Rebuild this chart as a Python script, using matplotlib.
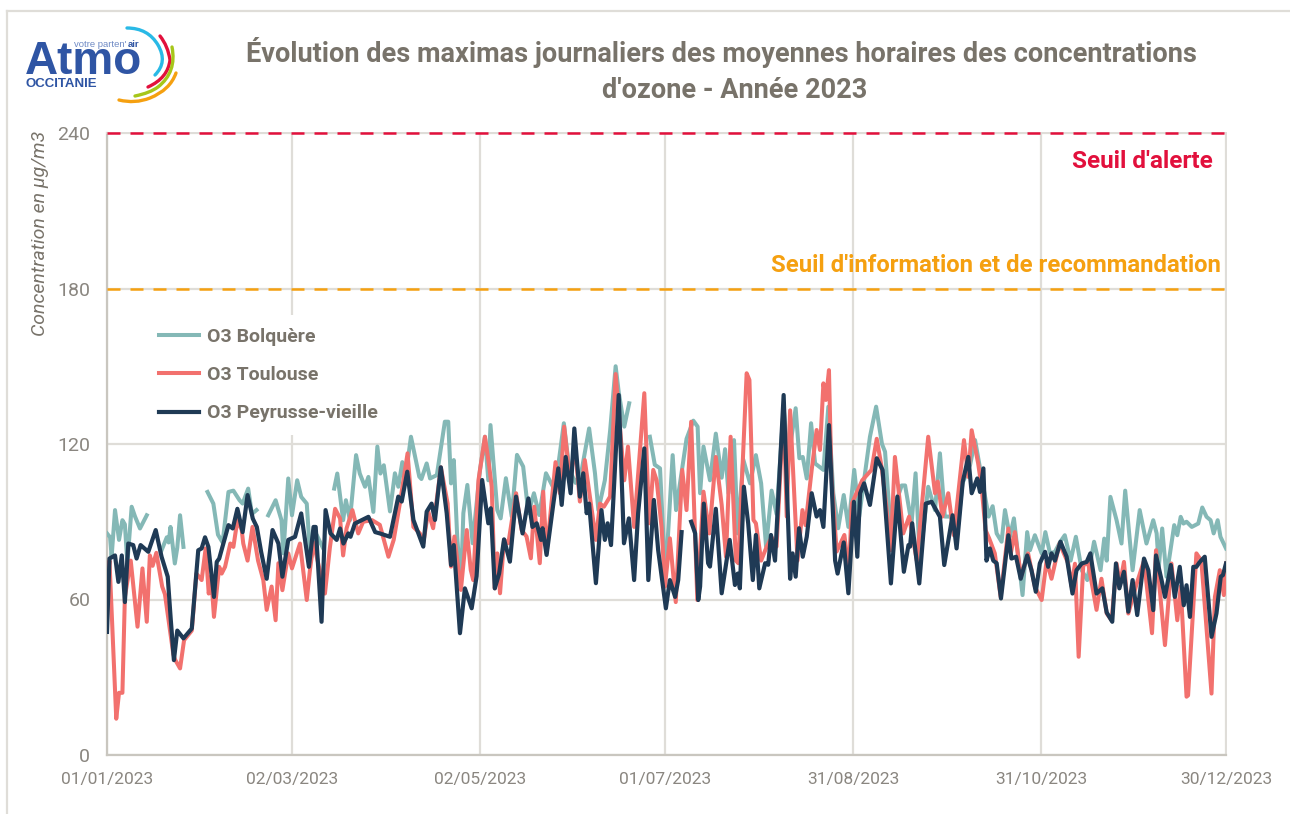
import numpy as np
import matplotlib.pyplot as plt
from matplotlib.lines import Line2D
from matplotlib.patches import PathPatch
from matplotlib.path import Path

W, H = 1290, 814

tick_days = [0, 60, 121, 181, 242, 303, 363]
tick_dates = ['01/01/2023', '02/03/2023', '02/05/2023', '01/07/2023',
              '31/08/2023', '31/10/2023', '30/12/2023']
y_ticks = [0, 60, 120, 180, 240]

alert_level = 240
info_level = 180

# (day of the year, µg/m3), nan = hole in the series
bolquere_days = [0, 1, 1.5, 2.6, 3.9, 5, 5.8, 6.6, 8, 9.1, 10.7, 12.9, 13.5,
                 17.7, 19.4, 20, 20.6, 22, 22.8, 23.7, 24.8, 28,
                 32.6, 34.5, 36, 37.5, 39.4, 41, 43, 44, 45.8, 47, 48.5, 50,
                 52.3, 54.7, 56.6, 57.2, 58.8, 60, 61.7, 63, 64.8, 66, 68, 70, 73,
                 73.7, 74.7, 76.6, 77.5, 78.8, 80.8, 82, 83.7, 84.8, 86.4, 87.7, 88.7, 89.8,
                 91.8, 93.4, 94.5, 95.8, 96.7, 98.6, 101.3, 102, 103.7, 104.8, 107, 109.6, 110.7, 111.6, 112.5,
                 113.6, 114.8, 115.6, 116.9, 118.6, 121, 122.6, 123.7, 124.4, 126.6, 127.7, 129.4, 131.3, 133,
                 135, 136.7, 138.5, 140.2, 142.4, 145.3, 148.2, 150, 152, 154, 156.4, 158.3, 159.4, 161.5, 163.2,
                 165, 166, 167.8, 169.4, 170, 174,
                 176.1, 177.7, 179.4, 180.7, 181.5, 183.5, 184.6, 185.4, 188, 190.2, 191.6, 192.4, 193.5, 195.6,
                 197.5, 199.4, 200.5, 201.6, 203.4, 204.6, 206.4, 208.6, 210.5, 212.2, 213.8, 215.6, 217.2, 219.5,
                 221, 223.4, 224.6, 225.7, 227, 228.4, 229.7, 232.4, 234, 235.6, 237.2, 239, 240.5, 242.4, 244,
                 247.5, 249.5, 251.4, 252.4, 254, 257.8, 258.9, 261, 262.3, 263.7, 266.4, 268.6, 270.2, 271.8,
                 273.5, 276, 277.5, 280, 281.6, 283.7, 286, 287.3, 288.6, 290.2, 291.3, 292.9, 294.2, 297, 298.5,
                 299.4, 301, 303.2, 304.4, 305.9, 307.5, 309.1, 310.7, 312.6, 314.3, 316.2, 318, 320.2, 322.3,
                 323.5, 324.3, 325.5, 327.5, 329.1, 330.3, 332.7, 335, 337.2, 339.4, 340.5, 341.2, 342.3, 343.7,
                 346.2, 347.2, 348.3, 349.2, 350.2, 351.9, 354, 355.3, 356.7, 358, 359, 360.3, 361.2, 363]
bolquere = [85.5, 84, 76.5, 94.5, 83, 90.6, 89, 74, 95.8, 92, 87.4, 92.5, np.nan,
            79, 84, 82, 88, 73.9, 80, 92.5, 80.3, np.nan,
            101.5, 97, 85, 82, 101.5, 102, 98.3, 97, 102.8, 93, 94.5, np.nan,
            92.5, 98.3, 90.6, 77.8, 106.7, 92.5, 106, 99.6, 97, 75, 85, 80, np.nan,
            102.8, 108.6, 90.6, 98.3, 90.6, 115.7, 108.6, 103.5, 107.3, 93.8, 119, 108.6, 111.8,
            94, 108.7, 103.5, 113, 106, 122.8, 107.4, 106.5, 112.5, 106.7, 108, 128.6, 128.6, 104.8, 113.8,
            84.3, 65, 93.3, 104.2, 81.7, 110, 122.8, 106, 127.3, 94.5, 91.3, 106.8, 92, 115.8,
            111.3, 93.3, 101, 92.6, 108.7, 102, 128, 110, 105, 110, 126, 108.7, 94.5, 106, 125,
            150, 140, 126.7, 135.7, np.nan, np.nan,
            122.8, 112, 110.6, 79, 75, 115.7, 94.5, 101, 122, 129, 126.7, 101, 119, 106,
            124, 107, 118, 101, 121.5, 85.5, 114, 104.8, 115.7, 104.8, 80.4, 102, 93, 134,
            114, 133.8, 114.5, 115, 106.7, 128, 112.5, 110, 134.4, 101, 87.5, 100.3, 88, 110, 92,
            122.8, 134.4, 120, 117, 90.7, 104, 104, 89.4, 108.7, 75, 103.5, 94.5, 116.4, 92,
            92, 88, 104.8, 112, 121.5, 107.3, 92, 96, 85.5, 82.3, 94.5, 84.2, 91.3, 61.7, 86,
            79, 84.8, 77.8, 86, 77.8, 78.4, 82, 84.8, 75, 84.2, 71.3, 67.5, 82.3, 71.3,
            83.5, 75, 99.6, 90.6, 81.6, 102, 71.3, 94.5, 81.6, 90.6, 85.5, 72.6, 87.4, 68.8,
            88.7, 84.8, 91.9, 89.3, 90, 88, 89.3, 95.5, 91.9, 90.6, 85.5, 90.6, 84.2, 79.7]

toulouse_days = [0, 0.8, 3, 3.9, 5, 5.8, 7.7, 9.9, 11.5, 12.9, 13.9, 14.8, 16, 17.9, 18.8, 21.5, 22, 23.7,
                 25, 27.5, 29, 30.7, 32, 33, 33.8, 34.7, 36.4, 37.2, 38.3, 40, 41, 42.3, 43.7, 44.2, 45.6,
                 47.2, 49, 50.7, 51.8, 53.4, 54.7, 55.6, 56.9, 58.8, 60, 62.6, 64.8, 65.8, 67, 70.7, 72.3,
                 74, 75.6, 76.6, 77.7, 79.6, 81.5, 83.1, 86, 88.5, 89.6, 91.3, 93, 95, 97.5, 99.4, 101.5,
                 102.6, 104.2, 105.8, 108.3, 110.5, 111.6, 112.7, 114.8, 116.7, 118, 118.8, 120.5, 122.6,
                 124, 124.8, 125.8, 126.6, 127.5, 128.8, 130.2, 132.7, 134.5, 136.1, 137.5, 138.6, 140.4,
                 141.5, 142.6, 144.2, 145.5, 146.9, 148.3, 150.2, 151.8, 153.4, 155, 158.6, 159.9, 161.2,
                 163.2, 165, 167.8, 169, 171, 174.3, 175.9, 177.2, 178.3, 179.9, 181, 182.6, 184.5, 186.6,
                 188, 189.5, 191.5, 193.5, 195.4, 197.5, 199.4, 200.8, 202.3, 204, 204.8, 207.5, 208.4,
                 209.7, 210.5, 212.2, 214, 215.6, 217.2, 219.5, 220.5, 221.6, 224, 225.6, 226.6, 228.6,
                 230.2, 231.3, 232.4, 233.2, 234.2, 235, 236.7, 239.2, 240.7, 241.6, 245, 248, 249.7,
                 251.3, 252.8, 254.2, 255.6, 258.3, 260.2, 262.7, 266.4, 268.6, 269.5, 271, 272.9, 274.7,
                 278, 279.4, 280.5, 282.6, 283.7, 285, 286.2, 288, 289.9, 292.4, 293.2, 294.5, 296.5, 298.8,
                 301, 303.2, 304.8, 306.4, 309, 311.8, 312.9, 314, 315.2, 316.7, 318.3, 321, 322.6, 324.3,
                 325.9, 327.5, 328.6, 329.9, 331.3, 334, 336.4, 339, 340.3, 343.2, 345.3, 347.2, 348.3,
                 350.2, 350.7, 353.4, 355, 358.3, 359.4, 361, 362.3, 363]
toulouse = [66, 75, 14, 24, 24, 61, 75, 49.5, 72, 51.4, 77, 73, 78, 65, 62, 39, 37, 33.4,
            44.3, 48, 70, 67.5, 79.7, 62.3, 68.8, 53.3, 72.6, 70, 72.6, 81.6, 80.3, 90.6, 86.8, 81.6, 75,
            88, 75, 67.5, 56, 65, 52, 74, 63.6, 77.8, 72, 81.6, 59.8, 71, 82, 62.3, 80,
            95, 91.3, 77, 87.4, 94.5, 85.5, 90, 90.6, 88.8, 84, 76.5, 83, 97, 116.4, 88, 85.5,
            81.7, 94, 87.5, 111, 97, 72.7, 84.3, 63.7, 86.8, 71.4, 67.5, 106, 122.8,
            111.3, 103.5, 64.3, 77.8, 62.4, 83, 81.7, 101, 86.8, 84.3, 75.9, 95.8, 74,
            101.6, 77.8, 97, 113, 101, 126.7, 106, 119, 97.8, 113.8, 83, 97, 95.8,
            99.7, 147, 106, 119, 88, 139.6, 89.4, 110, 106, 88, 65, 83.6, 59, 110,
            94.5, 128.6, 59.8, 101.6, 85.5, 115, 96.5, 76.5, 122.8, 75, 74, 147.3, 144.7,
            90.7, 89.4, 75, 80.4, 84, 80.4, 134, 92, 133, 75, 94.5, 88.7, 110,
            125.4, 117.7, 143.4, 137, 148.5, 107.4, 78.5, 84.9, 70, 97, 106, 110, 122,
            111, 96, 79, 115, 85.5, 92, 75, 122.8, 101, 105.5, 92, 101, 84.8,
            121.5, 107.3, 125.3, 112.5, 103.5, 86.8, 83.5, 77.8, 61, 87.4, 77.8, 86, 68.8, 77.8,
            65, 59.8, 75, 68, 81.6, 74, 65, 73.8, 37.9, 73.3, 74, 56, 68, 54.6,
            52, 73.9, 66, 74.5, 54.6, 66, 75, 47, 79, 42.4, 73.9, 52, 65,
            22.5, 23, 77.8, 75, 23.7, 61, 71.3, 61.7, 73.9]

peyrusse_days = [0, 0.8, 2.6, 3.7, 4.8, 5.8, 6.9, 8.5, 9.6, 10.9, 13.4, 15.8, 17.7, 19.7, 20.7, 21.7, 22.8,
                 24.8, 27.5, 29.6, 30.7, 31.8, 32.9, 34.7, 35.6, 36.4, 38.3, 39.4, 40.8, 42.3, 44, 45.6,
                 47.3, 48.6, 50, 51.8, 53.7, 55.6, 56.9, 58.8, 61, 63, 65.5, 67, 67.7, 69.6, 70.9, 72.5,
                 74.5, 75.6, 76.7, 78.3, 79, 80.4, 82.6, 84.8, 87, 88.5, 91.8, 94.5, 95.6, 97.4, 99.4,
                 101, 102.6, 103.7, 105.3, 106.4, 108.3, 110.2, 111.6, 112.5, 113.6, 114.5, 116.1, 118.3,
                 119.9, 121.7, 123.7, 124.5, 125.8, 127.2, 128.8, 130.7, 132.7, 134.8, 136.7, 138, 139.4,
                 140.8, 141.3, 142.6, 144.8, 146.4, 147.5, 148.8, 150.4, 151.6, 153.4, 154.5, 155.6, 156.4,
                 158.6, 160.4, 161.5, 162.4, 163.5, 166, 167.7, 169.3, 171, 172.3, 174.3, 175.6, 177.4,
                 178.8, 181.3, 182.6, 184.3, 185.3, 186.4, 188,
                 189.5, 190.8, 191.8, 192.4, 193.6, 195, 195.6, 197.5, 199.4, 202, 203.7, 204.6, 205.3,
                 206.6, 208, 209.5, 210.5, 211.6, 213.5, 214.5, 215.4, 216.7, 219.5, 221.6, 222.4, 223.4,
                 224.5, 225.7, 227, 228.6, 230.2, 231.3, 232.4, 234.2, 236.2, 237, 239, 240.5, 242.3,
                 243.4, 244.3, 245.6, 247.5, 249.7, 251.6, 254.3, 256.4, 258.5, 260, 260.5, 261.2, 263.5,
                 265.6, 267.5, 270.2, 271.6, 274.3, 275.6, 277.6, 279.4, 280.5, 282.3, 283.2, 284.3, 285.3,
                 286.4, 287.5, 288.6, 290, 292.4, 293.4, 294.9, 296.4, 298.5, 299.9, 301.3, 302.6, 304.3,
                 305.3, 306.4, 307.5, 309.3, 311.3, 313.2, 314.5, 316.2, 317.8, 319, 321, 322.9, 324.3,
                 326.1, 327.3, 328.4, 329.9, 331.3, 332.7, 334.2, 336.4, 337.8, 339.4, 340.3, 342.1, 343.2,
                 345.1, 346.4, 348, 349.3, 350.2, 351.3, 352.4, 353.4, 354.5, 356.1, 358.3, 359.9, 361.3,
                 362, 363]
peyrusse = [47.5, 75.8, 77, 66.8, 77, 59, 81.6, 81, 75.8, 81, 78.4, 86.8, 76.5, 68.8, 52, 36.6, 48,
            45, 48.8, 79, 79.7, 84, 80.3, 61, 74.5, 75.8, 84, 88.7, 87.4, 95, 86, 100.3,
            91.2, 88, 78.4, 68, 86.8, 81.6, 68.8, 83, 84.2, 93.2, 72.6, 88, 88, 51.4, 94.5, 85.5,
            83, 87.4, 81.6, 85.5, 84.2, 89.3, 90.6, 91.9, 86, 85.5, 84.2, 99.7, 97.8, 109.3, 90.7,
            85.5, 80.4, 93.9, 97, 90.7, 111, 93.3, 73.3, 81, 62.4, 47, 64.3, 56.6,
            69, 106.1, 89.4, 95.2, 64.3, 70, 83.2, 74.6, 99.7, 85.5, 99, 88, 89.4,
            83, 87.5, 77.2, 97, 110.6, 96.5, 115, 101, 126, 99.7, 108.7, 93.3, 97,
            66.3, 94.5, 83, 89.4, 81, 138.9, 81.7, 91.3, 67.5, 93.3, 118.3, 67.5, 98.4,
            79, 56.6, 67.5, 61, 67.5, 86, np.nan,
            90, 85.5, 59.8, 65, 97, 74, 72.7, 95, 62.4, 83, 65.6, 70, 64.3,
            103.5, 89.4, 67.5, 84.9, 64.3, 74, 73.4, 84.9, 75, 138.9, 68, 77.8, 68.8,
            87.5, 76.5, 84.2, 101, 92, 94.5, 88, 127.3, 75, 70, 82, 62.4, 97.7,
            76.5, 101, 104.8, 96.5, 114.5, 110, 66.2, 99.7, 70.7, 81, 80.4, 89.4, 66.2,
            97, 97.7, 91.9, 73.3, 92.5, 79.7, 105.4, 115, 101, 106.7, 101.5, 110.6, 75,
            79.7, 75, 74, 60.4, 84.8, 75.8, 76.5, 68, 77, 71.3, 63, 73.9, 78.4,
            72.6, 77.8, 75, 82.3, 76.5, 62.3, 71.3, 73.9, 74.5, 77.8, 62.3, 64.3, 55,
            51.4, 73.9, 64.3, 70.7, 55.3, 67.5, 54, 75.8, 71.3, 55.9, 77, 67.5, 61,
            73.3, 61, 72.6, 57.8, 65.5, 53.3, 72.6, 72.6, 74.5, 76.5, 45.6, 54.6, 68.8,
            69.4, 73.9]

series_names = ['O3 Bolquère', 'O3 Toulouse', 'O3 Peyrusse-vieille']

TEAL = '#84b8b6'
RED = '#f2716e'
NAVY = '#1f3a55'
GREY = '#78736a'
TICK = '#8a8680'
GRID = '#dfddd8'
AXIS = '#c9c6bf'
CRIMSON = '#e2103c'
ORANGE = '#f5a010'
BLUE = '#2f55a4'

plt.rcParams['font.family'] = ['Roboto', 'DejaVu Sans']

fig = plt.figure(figsize=(W / 100, H / 100), dpi=100)
ax = fig.add_axes([107 / W, 1 - 755 / H, (1226 - 107) / W, (755 - 133) / H])

ax.plot(bolquere_days, bolquere, color=TEAL, lw=2.9, label=series_names[0], solid_joinstyle='round', zorder=3)
ax.plot(toulouse_days, toulouse, color=RED, lw=2.9, label=series_names[1], solid_joinstyle='round', zorder=4)
ax.plot(peyrusse_days, peyrusse, color=NAVY, lw=3.0, label=series_names[2], solid_joinstyle='round', zorder=5)

ax.axhline(alert_level, color=CRIMSON, lw=1.8, ls=(0, (5.2, 4.0)), clip_on=False, zorder=6)
ax.axhline(info_level, color=ORANGE, lw=1.8, ls=(0, (5.2, 4.0)), clip_on=False, zorder=6)

ax.set_xlim(tick_days[0], tick_days[-1])
ax.set_ylim(y_ticks[0], y_ticks[-1])
ax.set_xticks(tick_days)
ax.set_xticklabels(tick_dates, fontsize=12.5, color=TICK)
ax.set_yticks(y_ticks)
ax.set_yticklabels(y_ticks, fontsize=14, color=TICK)
ax.tick_params(axis='x', length=0, pad=12)
ax.tick_params(axis='y', length=0, pad=12)
ax.grid(True, color=GRID, lw=1.6, zorder=0)
ax.set_axisbelow(True)
for side in ['top', 'right']:
    ax.spines[side].set_color(GRID)
    ax.spines[side].set_linewidth(1.4)
for side in ['left', 'bottom']:
    ax.spines[side].set_color(AXIS)
    ax.spines[side].set_linewidth(1.6)

ax.set_ylabel('Concentration en µg/m3', fontsize=14, style='italic', color=GREY)
ax.yaxis.set_label_coords(-0.052, 0.838, transform=ax.transAxes)

leg = ax.legend(loc='upper left', bbox_to_anchor=(146 / W, 1 - 315 / H), bbox_transform=fig.transFigure,
                frameon=True, facecolor='white', edgecolor='none', framealpha=1, fancybox=False,
                fontsize=14, handlelength=2.1, handletextpad=0.4, labelspacing=1.05,
                borderaxespad=0, borderpad=0.65)
leg.set_zorder(2)
for t in leg.get_texts():
    t.set_color(GREY)
    t.set_fontweight('bold')

fig.text(1213 / W, 1 - 162 / H, "Seuil d'alerte", color=CRIMSON, fontsize=17.5, fontweight='bold',
         ha='right', va='center')
fig.text(1221 / W, 1 - 266 / H, "Seuil d'information et de recommandation", color=ORANGE, fontsize=17.2,
         fontweight='bold', ha='right', va='center')

fig.text(721 / W, 1 - 53 / H, 'Évolution des maximas journaliers des moyennes horaires des concentrations',
         color=GREY, fontsize=19.5, fontweight='bold', ha='center', va='center')
fig.text(735 / W, 1 - 90 / H, "d'ozone - Année 2023", color=GREY, fontsize=19.5, fontweight='bold',
         ha='center', va='center')

# outer frame of the slide
fig.add_artist(Line2D([7 / W, 7 / W], [0, 1 - 11 / H], color=GRID, lw=1.6))
fig.add_artist(Line2D([7 / W, 1], [1 - 11 / H, 1 - 11 / H], color=GRID, lw=1.6))

# logo, in pixel coordinates
logo = fig.add_axes([0, 0, 1, 1], facecolor='none')
logo.set_xlim(0, W)
logo.set_ylim(H, 0)
logo.axis('off')
logo.text(25, 74, 'Atmo', color=BLUE, fontsize=33, fontweight='bold', family='Liberation Sans',
          ha='left', va='baseline')
logo.text(26, 87, 'OCCITANIE', color=BLUE, fontsize=9.5, fontweight='bold', family='Liberation Sans',
          ha='left', va='baseline')
logo.text(74, 47, "votre parten'", color='#6f8ac4', fontsize=6.8, family='Liberation Sans',
          ha='left', va='baseline')
logo.text(128, 47, 'air', color=BLUE, fontsize=6.8, fontweight='bold', family='Liberation Sans',
          ha='left', va='baseline')
logo_arcs = [
    ('#29b9e6', [(127, 28), (148, 28), (158, 45), (168, 62), (155, 75)]),
    ('#e2103c', [(160, 36), (168, 46), (170, 60), (168, 78), (148, 87)]),
    ('#a6c61a', [(172, 47), (177, 72), (158, 87), (150, 93), (135, 96)]),
    ('#f5a010', [(176, 73), (170, 90), (150, 98), (135, 104), (119, 100)]),
]
for col, pts in logo_arcs:
    codes = [Path.MOVETO, Path.CURVE3, Path.CURVE3, Path.CURVE3, Path.CURVE3]
    logo.add_patch(PathPatch(Path(pts, codes), fc='none', ec=col, lw=2.4, capstyle='round'))

plt.savefig('out.png', dpi=100)
